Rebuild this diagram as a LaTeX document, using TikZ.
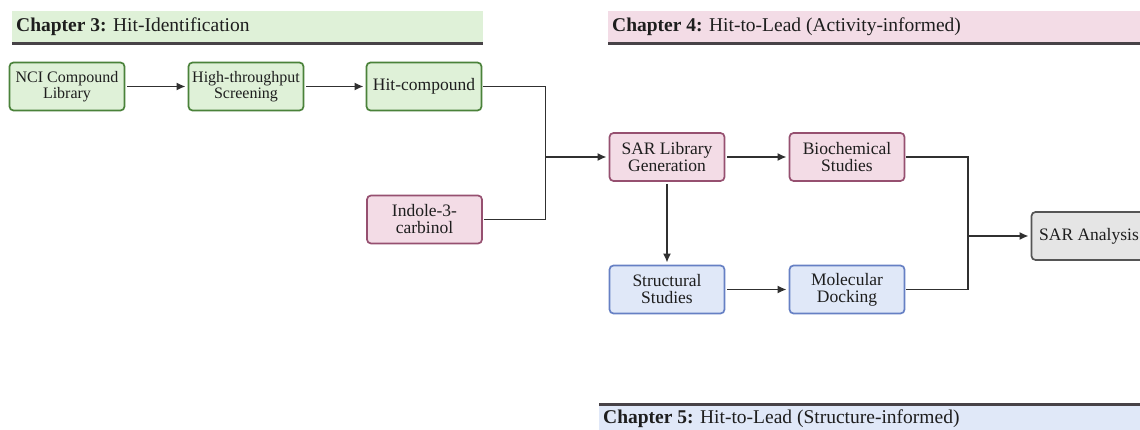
\documentclass[tikz,border=0pt]{standalone}
\usepackage{fontspec}
\setmainfont{Liberation Serif}
\usetikzlibrary{arrows.meta}

\definecolor{greenfill}{HTML}{DFF1D8}
\definecolor{greenline}{HTML}{4A823A}
\definecolor{pinkfill}{HTML}{F3DCE6}
\definecolor{pinkline}{HTML}{965070}
\definecolor{bluefill}{HTML}{E0E8F8}
\definecolor{blueline}{HTML}{6680C4}
\definecolor{grayfill}{HTML}{E5E5E5}
\definecolor{grayline}{HTML}{555555}
\definecolor{rulecol}{HTML}{474247}
\definecolor{ink}{HTML}{1E1E1E}
\definecolor{wire}{HTML}{303030}

\tikzset{
  box/.style={draw, rounded corners=4pt, line width=1.7pt, minimum width=115pt,
    minimum height=48pt, align=center, inner sep=1pt, text=ink,
    font=\fontsize{17.5}{17}\selectfont},
  greenbox/.style={box, fill=greenfill, draw=greenline},
  pinkbox/.style={box, fill=pinkfill, draw=pinkline},
  bluebox/.style={box, fill=bluefill, draw=blueline},
  graybox/.style={box, fill=grayfill, draw=grayline},
  smalltext/.style={font=\fontsize{16}{16.5}\selectfont},
  banner/.style={anchor=west, inner sep=0pt, text=ink, font=\fontsize{19.5}{19.5}\selectfont},
  bannerrule/.style={draw=rulecol, line width=3pt},
  wireline/.style={draw=wire, line width=1.8pt},
  arrow/.style={wireline, -{Latex[length=9pt,width=8pt]}, shorten >=2pt, shorten <=2pt},
}

\begin{document}
\begin{tikzpicture}[x=1pt,y=-1pt]
  \useasboundingbox (0,0) rectangle (1140,430);
  \clip (0,0) rectangle (1140,430);
  \fill[white] (0,0) rectangle (1140,430);

  % chapter banners
  \fill[greenfill] (12,11) rectangle (483,43);
  \draw[bannerrule] (12,43.5) -- (483,43.5);
  \node[banner] (ch3) at (16,27) {\textbf{Chapter 3:} Hit-Identification};

  \fill[pinkfill] (608,11) rectangle (1140,43);
  \draw[bannerrule] (608,43.5) -- (1140,43.5);
  \node[banner] (ch4) at (612,27) {\textbf{Chapter 4:} Hit-to-Lead (Activity-informed)};

  \fill[bluefill] (599,404) rectangle (1140,430);
  \draw[bannerrule] (599,404) -- (1140,404);
  \node[banner] (ch5) at (603,419) {\textbf{Chapter 5:} Hit-to-Lead (Structure-informed)};

  % hit identification
  \node[greenbox, smalltext] (nci) at (67,86.5) {NCI Compound\\Library};
  \node[greenbox, smalltext] (hts) at (246,86.5) {High-throughput\\Screening};
  \node[greenbox] (hit) at (424,86.5) {Hit-compound};
  \node[pinkbox] (i3c) at (424.5,219.5) {Indole-3-\\carbinol};

  % activity-informed
  \node[pinkbox] (sar) at (667,157) {SAR Library\\Generation};
  \node[pinkbox] (bio) at (847,157) {Biochemical\\Studies};

  % structure-informed
  \node[bluebox] (str) at (667,289.5) {Structural\\Studies};
  \node[bluebox] (dock) at (847,289.5) {Molecular\\Docking};

  \node[graybox] (sara) at (1089,236) {SAR Analysis};

  % junctions
  \coordinate (j1) at (545.5,157);
  \coordinate (j2) at (968,236);

  % connectors
  \draw[arrow] (nci) -- (hts);
  \draw[arrow] (hts) -- (hit);
  \draw[wireline, shorten <=1pt] (hit.east) -| (j1);
  \draw[wireline, shorten <=1pt] (i3c.east) -| (j1);
  \draw[arrow, shorten <=0pt] (j1) -- (sar.west);
  \draw[arrow] (sar) -- (bio);
  \draw[arrow] (sar) -- (str);
  \draw[arrow] (str) -- (dock);
  \draw[wireline, shorten <=1pt] (bio.east) -| (j2);
  \draw[wireline, shorten <=1pt] (dock.east) -| (j2);
  \draw[arrow, shorten <=0pt] (j2) -- (sara.west);
\end{tikzpicture}
\end{document}
